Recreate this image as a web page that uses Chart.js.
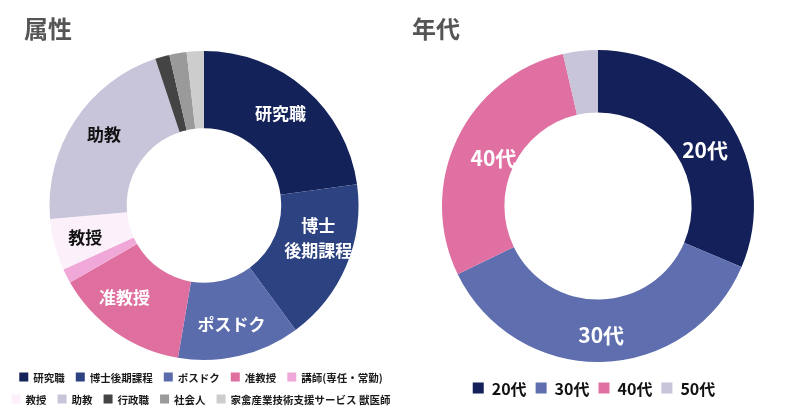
<!DOCTYPE html>
<html lang="ja">
<head>
<meta charset="utf-8">
<script src="https://cdn.jsdelivr.net/npm/chart.js@4"></script>
<style>
  html, body { margin: 0; padding: 0; background: #fff; }
  body { width: 800px; height: 419px; position: relative; overflow: hidden; font-family: "Noto Sans CJK JP", sans-serif; }
  .box { position: absolute; top: 0; width: 400px; height: 419px; }
  #leftBox { left: 0; }
  #rightBox { left: 400px; }
  .title { position: absolute; top: 16px; font-size: 24px; line-height: 24px; font-weight: bold; color: #555; }
</style>
</head>
<body>
<div class="box" id="leftBox"><canvas id="chart1"></canvas></div>
<div class="box" id="rightBox"><canvas id="chart2"></canvas></div>
<div class="title" style="left:24px">属性</div>
<div class="title" style="left:412px">年代</div>
<script>
// 属性
const attrLabels = ['研究職', '博士後期課程', 'ポスドク', '准教授', '講師(専任・常勤)', '教授', '助教', '行政職', '社会人', '家禽産業技術支援サービス 獣医師'];
const attrValues = [22.8, 17.1, 12.8, 14.0, 1.5, 5.4, 21.3, 1.5, 1.8, 1.8];
const attrSliceText = ['研究職', ['博士', '後期課程'], 'ポスドク', '准教授', '', '教授', '助教', '', '', ''];

// 年代
const ageLabels = ['20代', '30代', '40代', '50代'];
const ageValues = [31.4, 36.4, 28.6, 3.6];
const ageSliceText = ['20代', '30代', '40代', ''];

const attrColors = ['#14225a', '#2d4381', '#5b6cad', '#df6f9e', '#f0a8d8', '#fcf0fb', '#c8c4da', '#444444', '#9a9a9a', '#cdcdcd'];
const ageColors = ['#13205a', '#5e6eae', '#e070a2', '#c8c4da'];

// text inside the slices
const sliceText = {
  id: 'sliceText',
  afterDatasetsDraw(chart, args, opts) {
    const ctx = chart.ctx;
    const meta = chart.getDatasetMeta(0);
    ctx.save();
    ctx.font = opts.font;
    ctx.textAlign = 'center';
    ctx.textBaseline = 'middle';
    meta.data.forEach((arc, i) => {
      const text = opts.labels[i];
      if (!text) return;
      const p = arc.getProps(['x', 'y', 'startAngle', 'endAngle', 'innerRadius', 'outerRadius'], true);
      const a = (p.startAngle + p.endAngle) / 2;
      const r = p.innerRadius + (p.outerRadius - p.innerRadius) * opts.radius;
      const off = opts.offsets[i] || [0, 0];
      const x = p.x + Math.cos(a) * r + off[0];
      const y = p.y + Math.sin(a) * r + off[1];
      const lines = [].concat(text);
      ctx.fillStyle = opts.colors[i];
      lines.forEach((ln, k) => ctx.fillText(ln, x, y + (k - (lines.length - 1) / 2) * opts.lineHeight));
    });
    ctx.restore();
  }
};

// legend laid out in fixed rows
const rowLegend = {
  id: 'rowLegend',
  afterDraw(chart, args, opts) {
    const ctx = chart.ctx;
    const ds = chart.data.datasets[0];
    ctx.save();
    ctx.font = opts.font;
    ctx.textBaseline = 'middle';
    ctx.textAlign = 'left';
    opts.rows.forEach((row, r) => {
      const items = row.map(i => ({ i, w: opts.box + opts.gap + ctx.measureText(chart.data.labels[i]).width }));
      const total = items.reduce((s, it) => s + it.w, 0) + opts.spacing * (items.length - 1);
      let x = opts.cx - total / 2;
      const y = opts.y + r * opts.lineHeight;
      items.forEach(it => {
        ctx.fillStyle = ds.backgroundColor[it.i];
        ctx.fillRect(x, y - opts.box / 2, opts.box, opts.box);
        ctx.fillStyle = opts.color;
        ctx.fillText(chart.data.labels[it.i], x + opts.box + opts.gap, y + 1);
        x += it.w + opts.spacing;
      });
    });
    ctx.restore();
  }
};

const ctx1 = document.getElementById('chart1').getContext('2d');
new Chart(ctx1, {
  type: 'doughnut',
  data: {
    labels: attrLabels,
    datasets: [{
      data: attrValues,
      backgroundColor: attrColors,
      borderWidth: 0
    }]
  },
  options: {
    responsive: true,
    maintainAspectRatio: false,
    animation: false,
    events: [],
    cutout: '50%',
    layout: { padding: { top: 51, bottom: 59, left: 8, right: 0 } },
    plugins: {
      legend: { display: false },
      tooltip: { enabled: false },
      sliceText: {
        labels: attrSliceText,
        font: 'bold 17px "Noto Sans CJK JP"',
        lineHeight: 25,
        radius: 0.55,
        colors: ['#fff', '#fff', '#fff', '#fff', '#fff', '#111', '#111', '#fff', '#fff', '#fff'],
        offsets: { 0: [-2, -2], 1: [4, -14], 2: [0, 3], 3: [-11, -6], 5: [-3, 2], 6: [0, -5] }
      },
      rowLegend: {
        rows: [[0, 1, 2, 3, 4], [5, 6, 7, 8, 9]],
        font: 'bold 10.5px "Noto Sans CJK JP"',
        color: '#1a1a1a',
        cx: 201, y: 377, lineHeight: 22,
        box: 9, gap: 5, spacing: 11
      }
    }
  },
  plugins: [sliceText, rowLegend]
});

const ctx2 = document.getElementById('chart2').getContext('2d');
new Chart(ctx2, {
  type: 'doughnut',
  data: {
    labels: ageLabels,
    datasets: [{
      data: ageValues,
      backgroundColor: ageColors,
      borderWidth: 0
    }]
  },
  options: {
    responsive: true,
    maintainAspectRatio: false,
    animation: false,
    events: [],
    cutout: '60%',
    layout: { padding: { top: 50, bottom: 57, left: 0, right: 4 } },
    plugins: {
      legend: { display: false },
      tooltip: { enabled: false },
      sliceText: {
        labels: ageSliceText,
        font: 'bold 21px "Noto Sans CJK JP"',
        lineHeight: 26,
        radius: 0.5,
        colors: ['#fff', '#fff', '#fff', '#fff'],
        offsets: { 0: [3, 13], 1: [0, 4], 2: [8, 6] }
      },
      rowLegend: {
        rows: [[0, 1, 2, 3]],
        font: 'bold 16px "Noto Sans CJK JP"',
        color: '#111',
        cx: 194, y: 388, lineHeight: 22,
        box: 11, gap: 8, spacing: 9
      }
    }
  },
  plugins: [sliceText, rowLegend]
});
</script>
</body>
</html>
